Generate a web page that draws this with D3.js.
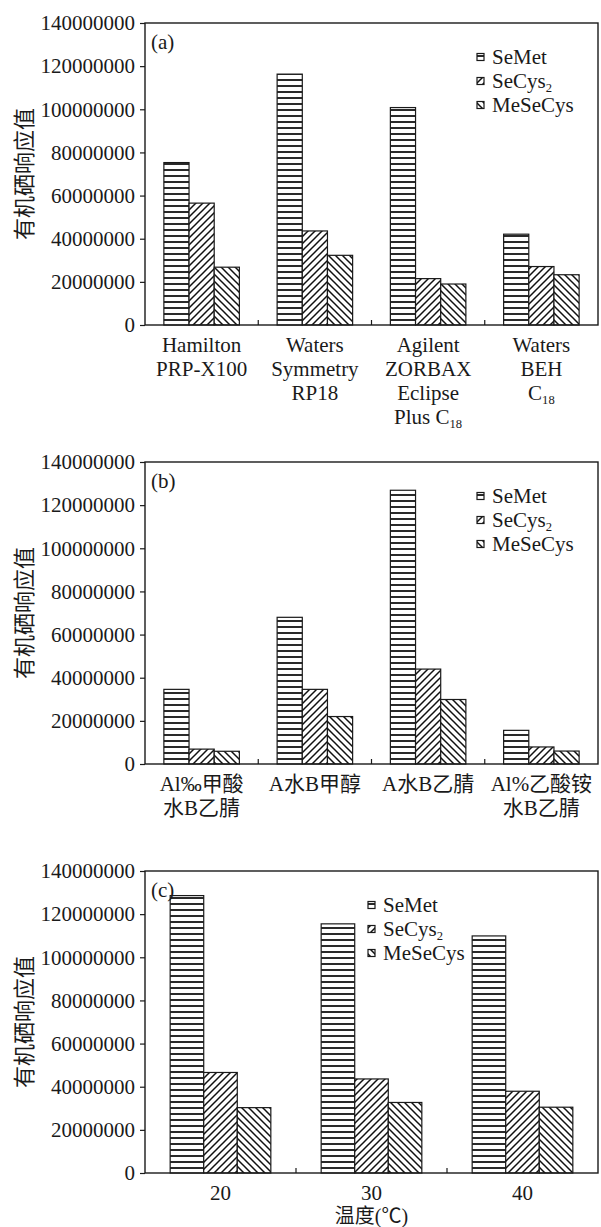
<!DOCTYPE html>
<html>
<head>
<meta charset="utf-8">
<script src="https://cdn.jsdelivr.net/npm/d3@7"></script>
<style>
body{margin:0;background:#fff;}
text{font-family:"Liberation Serif","Times New Roman","Noto Sans CJK SC",serif;fill:#1a1a1a;}
</style>
</head>
<body>
<div id="canvas"></div>
<script>
// series + tick labels
var series = ['SeMet', 'SeCys_2', 'MeSeCys'];
var yTicks = [0, 20000000, 40000000, 60000000, 80000000, 100000000, 120000000, 140000000];
var yTitle = '有机硒响应值';

// (a) columns
var catsA = [['Hamilton', 'PRP-X100'], ['Waters', 'Symmetry', 'RP18'], ['Agilent', 'ZORBAX', 'Eclipse', 'Plus C_18'], ['Waters', 'BEH', 'C_18']];
var semetA = [75300000, 116300000, 100800000, 42100000];
var secysA = [56500000, 43600000, 21500000, 27100000];
var mesecysA = [26800000, 32300000, 19000000, 23300000];

// (b) mobile phase
var catsB = [['Al‰甲酸', '水B乙腈'], ['A水B甲醇'], ['A水B乙腈'], ['Al%乙酸铵', '水B乙腈']];
var semetB = [34600000, 68000000, 126900000, 15600000];
var secysB = [6900000, 34600000, 44000000, 7900000];
var mesecysB = [5900000, 22000000, 29900000, 6000000];

// (c) temperature
var catsC = [['20'], ['30'], ['40']];
var semetC = [128600000, 115500000, 109900000];
var secysC = [46600000, 43600000, 37900000];
var mesecysC = [30300000, 32700000, 30500000];
var xTitleC = '温度(℃)';

var W = 601, H = 1227;
var svg = d3.select('#canvas').append('svg')
    .attr('width', W).attr('height', H);

// hatch patterns
var defs = svg.append('defs');
var pH = defs.append('pattern').attr('id', 'p0')
    .attr('patternUnits', 'userSpaceOnUse').attr('width', 6).attr('height', 6);
pH.append('rect').attr('width', 6).attr('height', 6).attr('fill', '#fff');
pH.append('line').attr('x1', 0).attr('x2', 6).attr('y1', 3).attr('y2', 3)
    .attr('stroke', '#111').attr('stroke-width', 1.8);

var pF = defs.append('pattern').attr('id', 'p1')
    .attr('patternUnits', 'userSpaceOnUse').attr('width', 7).attr('height', 7);
pF.append('rect').attr('width', 7).attr('height', 7).attr('fill', '#fff');
pF.append('path').attr('d', 'M-2,2L2,-2M0,7L7,0M5,9L9,5')
    .attr('stroke', '#111').attr('stroke-width', 1.5);

var pB = defs.append('pattern').attr('id', 'p2')
    .attr('patternUnits', 'userSpaceOnUse').attr('width', 7).attr('height', 7);
pB.append('rect').attr('width', 7).attr('height', 7).attr('fill', '#fff');
pB.append('path').attr('d', 'M-2,5L2,9M0,0L7,7M5,-2L9,2')
    .attr('stroke', '#111').attr('stroke-width', 1.5);

// text with "_" meaning subscript
function richText(sel, str, size) {
    var parts = str.split('_');
    sel.append('tspan').text(parts[0]);
    if (parts[1]) {
        sel.append('tspan').attr('font-size', size * 0.6).attr('dy', 4).text(parts[1]);
    }
}

var panels = [
    {tag: '(a)', top: 23, cats: catsA, vals: [semetA, secysA, mesecysA], legX: 477, xTitle: null},
    {tag: '(b)', top: 462, cats: catsB, vals: [semetB, secysB, mesecysB], legX: 477, xTitle: null},
    {tag: '(c)', top: 871, cats: catsC, vals: [semetC, secysC, mesecysC], legX: 368, xTitle: xTitleC}
];

var m = {l: 145, r: 3},
    w = W - m.l - m.r,
    h = 302,
    fs = 21;

panels.forEach(function(p) {
    var plot = svg.append('g')
        .attr('transform', 'translate(' + m.l + ',' + p.top + ')');

    var keys = p.cats.map(function(c) { return c.join('|'); });
    var x0 = d3.scaleBand().domain(keys).range([0, w]);
    var bw = x0.bandwidth();
    var x1 = d3.scaleBand().domain(series).range([bw * 0.75 / 4.5, bw * 3.75 / 4.5]);
    var y = d3.scaleLinear().domain([0, 140000000]).range([h, 0]);

    // bars
    series.forEach(function(s, si) {
        plot.selectAll('.bar' + si)
            .data(p.vals[si])
            .enter().append('rect')
            .attr('class', 'bar' + si)
            .attr('x', function(d, i) { return x0(keys[i]) + x1(s); })
            .attr('width', x1.bandwidth())
            .attr('y', function(d) { return y(d); })
            .attr('height', function(d) { return h - y(d); })
            .attr('fill', 'url(#p' + si + ')')
            .attr('stroke', '#1a1a1a').attr('stroke-width', 1.2);
    });

    // frame
    plot.append('rect').attr('width', w).attr('height', h)
        .attr('fill', 'none').attr('stroke', '#1a1a1a').attr('stroke-width', 1.4);

    // y axis
    var ya = plot.append('g')
        .call(d3.axisLeft(y).tickValues(yTicks).tickFormat(d3.format('d')).tickSize(5).tickPadding(5));
    ya.select('.domain').remove();
    ya.selectAll('line').attr('stroke', '#1a1a1a').attr('stroke-width', 1.2);
    ya.selectAll('text').attr('font-size', fs).attr('fill', '#1a1a1a');
    ya.attr('font-family', null);

    // x ticks at category boundaries, inside
    plot.selectAll('.xt').data(keys.slice(1)).enter().append('line')
        .attr('x1', function(d) { return x0(d); }).attr('x2', function(d) { return x0(d); })
        .attr('y1', h).attr('y2', h - 5)
        .attr('stroke', '#1a1a1a').attr('stroke-width', 1.2);

    // x labels
    p.cats.forEach(function(lines, i) {
        lines.forEach(function(line, li) {
            var t = plot.append('text')
                .attr('x', x0(keys[i]) + bw / 2)
                .attr('y', h + 27 + li * 24)
                .attr('text-anchor', 'middle')
                .attr('font-size', fs);
            richText(t, line, fs);
        });
    });

    if (p.xTitle) {
        plot.append('text')
            .attr('x', w / 2).attr('y', h + 50)
            .attr('text-anchor', 'middle').attr('font-size', 20)
            .text(p.xTitle);
    }

    // panel tag
    plot.append('text').attr('x', 6).attr('y', 26)
        .attr('font-size', fs).text(p.tag);

    // y title
    plot.append('text')
        .attr('transform', 'translate(' + (24 - m.l) + ',' + (h / 2) + ') rotate(-90)')
        .attr('text-anchor', 'middle').attr('dominant-baseline', 'central')
        .attr('font-size', 22).text(yTitle);

    // legend
    var lx = p.legX - m.l;
    series.forEach(function(s, si) {
        var cy = 34 + si * 24;
        plot.append('rect')
            .attr('x', lx).attr('y', cy - 3.5).attr('width', 7).attr('height', 7)
            .attr('fill', 'url(#p' + si + ')')
            .attr('stroke', '#1a1a1a').attr('stroke-width', 1.2);
        var t = plot.append('text')
            .attr('x', lx + 15).attr('y', cy + 7)
            .attr('font-size', fs);
        richText(t, s, fs);
    });
});
</script>
</body>
</html>
